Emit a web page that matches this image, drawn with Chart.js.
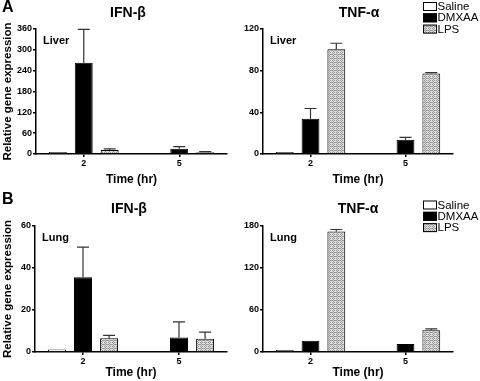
<!DOCTYPE html>
<html>
<head>
<meta charset="utf-8">
<script src="https://cdn.jsdelivr.net/npm/chart.js@4.4.1/dist/chart.umd.min.js"></script>
<style>
  body { margin: 0; background: #fff; }
  #wrap { position: relative; width: 480px; height: 381px; }
  canvas { position: absolute; }
</style>
</head>
<body>
<div id="wrap">
  <canvas id="liver-ifn" width="240" height="190" style="left:0;top:0"></canvas>
  <canvas id="liver-tnf" width="240" height="190" style="left:240px;top:0"></canvas>
  <canvas id="lung-ifn" width="240" height="191" style="left:0;top:190px"></canvas>
  <canvas id="lung-tnf" width="240" height="191" style="left:240px;top:190px"></canvas>
</div>
<script>
// data
var timeLabels = ['2', '5'];
var groupNames = ['Saline', 'DMXAA', 'LPS'];

// liver, IFN-beta
var liverIfnSaline = [1, null];
var liverIfnDmxaa = [263, 15];
var liverIfnLps = [11.5, 5];
var liverIfnSalineErr = [0, 0];
var liverIfnDmxaaErr = [96, 6];
var liverIfnLpsErr = [3, 2];

// liver, TNF-alpha
var liverTnfSaline = [1, null];
var liverTnfDmxaa = [33.8, 13.7];
var liverTnfLps = [100.6, 77.2];
var liverTnfSalineErr = [0, 0];
var liverTnfDmxaaErr = [9.9, 2.2];
var liverTnfLpsErr = [5.7, 1];

// lung, IFN-beta
var lungIfnSaline = [1.2, null];
var lungIfnDmxaa = [35.6, 6.9];
var lungIfnLps = [6.5, 6.3];
var lungIfnSalineErr = [0, 0];
var lungIfnDmxaaErr = [14.3, 7.4];
var lungIfnLpsErr = [1.4, 3.2];

// lung, TNF-alpha
var lungTnfSaline = [1.5, null];
var lungTnfDmxaa = [16, 11.3];
var lungTnfLps = [172, 31.2];
var lungTnfSalineErr = [0, 0];
var lungTnfDmxaaErr = [0, 0];
var lungTnfLpsErr = [3, 1.8];

var FONT = '"Liberation Sans", Arial, sans-serif';

function makeHatch(){
  var c = document.createElement('canvas');
  c.width = 4; c.height = 4;
  var x = c.getContext('2d');
  x.fillStyle = '#e2e2e2';
  x.fillRect(0, 0, 4, 4);
  x.fillStyle = '#909090';
  [[0,0],[2,0],[1,1],[3,2],[0,2],[2,2],[1,3]].forEach(function(p){ x.fillRect(p[0], p[1], 1, 1); });
  return x.createPattern(c, 'repeat');
}
var hatch = makeHatch();
var fills = ['#ffffff', '#000000', hatch];

var errorBars = {
  id: 'errorBars',
  afterDatasetsDraw: function(chart){
    var ctx = chart.ctx;
    var y = chart.scales.y;
    ctx.save();
    ctx.strokeStyle = '#333';
    ctx.lineWidth = 1.2;
    chart.data.datasets.forEach(function(ds, i){
      var meta = chart.getDatasetMeta(i);
      meta.data.forEach(function(bar, j){
        var err = ds.errors[j];
        if(!err) return;
        var top = y.getPixelForValue(ds.data[j] + err);
        ctx.beginPath();
        ctx.moveTo(bar.x, bar.y);
        ctx.lineTo(bar.x, top);
        ctx.moveTo(bar.x - 6, top);
        ctx.lineTo(bar.x + 6, top);
        ctx.stroke();
      });
    });
    ctx.restore();
  }
};

var panelText = {
  id: 'panelText',
  afterDraw: function(chart){
    var o = chart.options.plugins.panelText;
    var ctx = chart.ctx;
    ctx.save();
    ctx.fillStyle = '#000';
    ctx.textBaseline = 'middle';
    if(o.letter){
      ctx.font = 'bold 16px ' + FONT;
      ctx.textAlign = 'left';
      ctx.fillText(o.letter, 2, o.letterY);
    }
    ctx.font = 'bold 14px ' + FONT;
    ctx.textAlign = 'center';
    ctx.fillText(o.title, o.titleX, o.titleY);
    ctx.font = 'bold 11px ' + FONT;
    ctx.textAlign = 'left';
    ctx.fillText(o.tissue, chart.chartArea.left + 7, o.tissueY);
    if(o.keyY !== undefined){
      ctx.font = '11.5px ' + FONT;
      chart.data.datasets.forEach(function(ds, i){
        var cy = o.keyY + i * 11.3;
        ctx.fillStyle = ds.backgroundColor;
        ctx.fillRect(183, cy - 4.5, 14, 9);
        ctx.strokeStyle = '#000';
        ctx.lineWidth = 1;
        ctx.strokeRect(183.5, cy - 4, 13, 8);
        ctx.fillStyle = '#000';
        ctx.fillText(ds.label, 197.5, cy + 0.5);
      });
    }
    ctx.restore();
  }
};

function makePanel(id, vals, errs, yMax, yStep, p){
  var datasets = groupNames.map(function(name, i){
    return {
      label: name,
      data: vals[i],
      errors: errs[i],
      backgroundColor: fills[i],
      borderColor: '#000',
      borderWidth: 1,
      minBarLength: i === 0 ? 2 : 0,
      categoryPercentage: 0.815,
      barPercentage: 0.69
    };
  });
  return new Chart(document.getElementById(id).getContext('2d'), {
    type: 'bar',
    data: { labels: timeLabels, datasets: datasets },
    options: {
      responsive: false,
      animation: false,
      devicePixelRatio: 1,
      layout: { padding: { left: 0, top: p.top, right: p.right, bottom: 0 } },
      plugins: {
        legend: { display: false },
        tooltip: { enabled: false },
        panelText: p.text
      },
      scales: {
        x: {
          offset: true,
          grid: { offset: false, drawOnChartArea: false, tickLength: 3, color: '#000', lineWidth: 1.5 },
          border: { color: '#000', width: 1.5 },
          ticks: { color: '#000', padding: 1.5, font: { family: FONT, size: 9, weight: 'bold' } },
          title: { display: true, text: 'Time (hr)', color: '#000', padding: { top: 0, bottom: p.xTitlePad },
                   font: { family: FONT, size: 12, weight: 'bold' } },
          afterFit: function(s){ s.height = p.xHeight; }
        },
        y: {
          min: 0, max: yMax,
          grid: { drawOnChartArea: false, tickLength: 3, color: '#000', lineWidth: 1.5 },
          border: { color: '#000', width: 1.5 },
          ticks: { stepSize: yStep, autoSkip: false, color: '#000', padding: 1, font: { family: FONT, size: 9, weight: 'bold' } },
          title: { display: p.yTitle, text: 'Relative gene expression', color: '#000', padding: { top: 1, bottom: 0 },
                   font: { family: FONT, size: 11.5, weight: 'bold' } },
          afterFit: function(s){ s.width = p.yWidth; }
        }
      }
    },
    plugins: [errorBars, panelText]
  });
}

makePanel('liver-ifn',
  [liverIfnSaline, liverIfnDmxaa, liverIfnLps],
  [liverIfnSalineErr, liverIfnDmxaaErr, liverIfnLpsErr], 360, 60,
  { top: 29, right: 13, yWidth: 36, xHeight: 36, xTitlePad: 2.8, yTitle: true,
    text: { letter: 'A', letterY: 8, title: 'IFN-\u03b2', titleX: 128, titleY: 13, tissue: 'Liver', tissueY: 41 } });

makePanel('liver-tnf',
  [liverTnfSaline, liverTnfDmxaa, liverTnfLps],
  [liverTnfSalineErr, liverTnfDmxaaErr, liverTnfLpsErr], 120, 40,
  { top: 29, right: 27, yWidth: 23, xHeight: 36, xTitlePad: 2.8, yTitle: false,
    text: { title: 'TNF-\u03b1', titleX: 119, titleY: 13, tissue: 'Liver', tissueY: 41, keyY: 6.5 } });

makePanel('lung-ifn',
  [lungIfnSaline, lungIfnDmxaa, lungIfnLps],
  [lungIfnSalineErr, lungIfnDmxaaErr, lungIfnLpsErr], 60, 20,
  { top: 36, right: 13, yWidth: 35, xHeight: 29, xTitlePad: 1, yTitle: true,
    text: { letter: 'B', letterY: 10, title: 'IFN-\u03b2', titleX: 129, titleY: 19, tissue: 'Lung', tissueY: 48 } });

makePanel('lung-tnf',
  [lungTnfSaline, lungTnfDmxaa, lungTnfLps],
  [lungTnfSalineErr, lungTnfDmxaaErr, lungTnfLpsErr], 180, 60,
  { top: 36, right: 27, yWidth: 23, xHeight: 29, xTitlePad: 1, yTitle: false,
    text: { title: 'TNF-\u03b1', titleX: 118, titleY: 19, tissue: 'Lung', tissueY: 48, keyY: 15 } });
</script>
</body>
</html>
